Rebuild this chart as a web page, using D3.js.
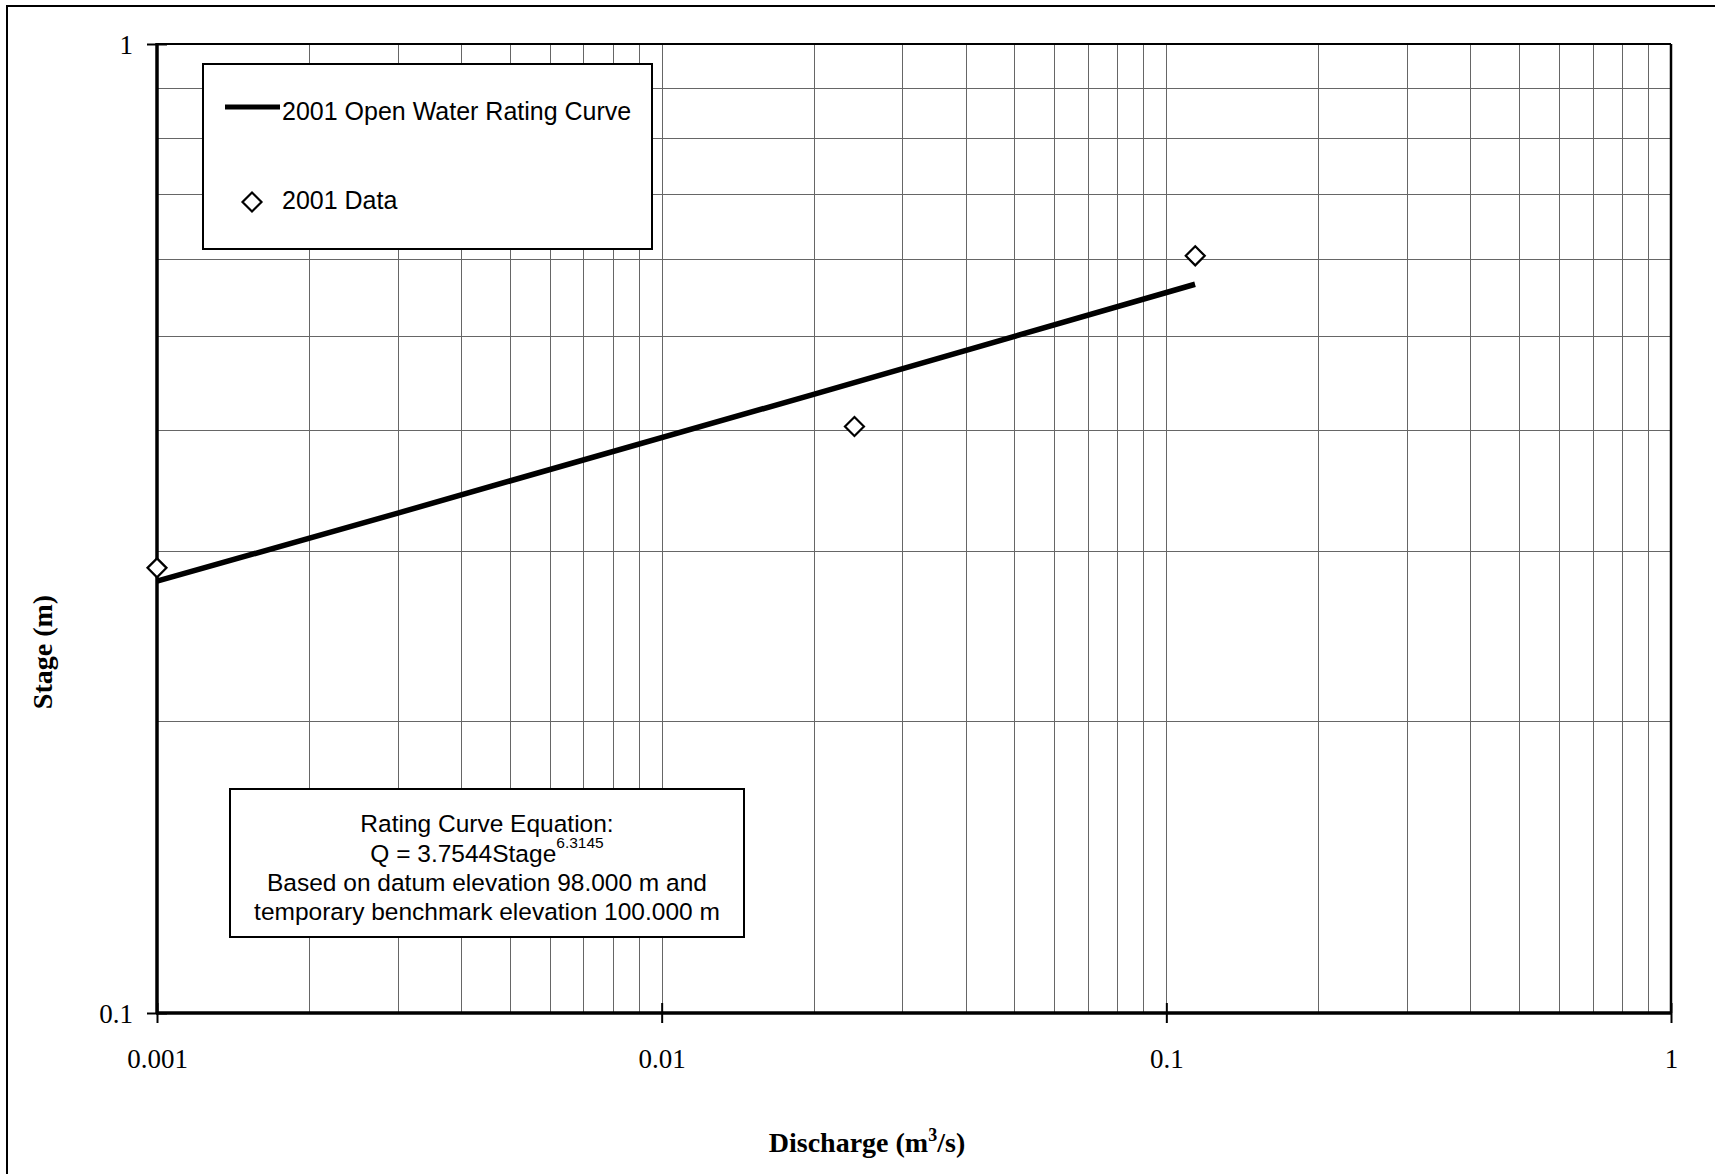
<!DOCTYPE html>
<html>
<head>
<meta charset="utf-8">
<script src="https://cdn.jsdelivr.net/npm/d3@7"></script>
<style>
  html, body { margin: 0; padding: 0; background: #fff; }
  svg { display: block; }
</style>
</head>
<body>
<svg id="chart" width="1715" height="1174"></svg>
<script>
// ---- data ----
const ratingQ = [0.001, 0.003, 0.005, 0.02, 0.114];
const ratingStage = [0.279, 0.328, 0.354, 0.435, 0.565];
const dataQ = [0.001, 0.0241, 0.1141];
const dataStage = [0.288, 0.403, 0.6045];
const xTickValues = [0.001, 0.01, 0.1, 1];
const xTickLabels = ["0.001", "0.01", "0.1", "1"];
const yTickValues = [0.1, 1];
const yTickLabels = ["0.1", "1"];
const legendLabels = ["2001 Open Water Rating Curve", "2001 Data"];
const equationLines = ["Rating Curve Equation:", "Q = 3.7544Stage", "Based on datum elevation 98.000 m and", "temporary benchmark elevation 100.000 m"];
const equationExponent = "6.3145";

// ---- layout ----
const W = 1715, H = 1174;
const L = 157, R = 1671, T = 44, B = 1013;
const serif = "'Liberation Serif', 'Times New Roman', serif";
const sans = "'Liberation Sans', Arial, sans-serif";

const svg = d3.select("#chart");
svg.append("rect").attr("x", 0).attr("y", 0).attr("width", W).attr("height", H).attr("fill", "#fff");
// outer frame
svg.append("rect").attr("x", 7).attr("y", 6).attr("width", W - 6).attr("height", H - 5)
  .attr("fill", "none").attr("stroke", "#000").attr("stroke-width", 2);

const x = d3.scaleLog().domain([0.001, 1]).range([L, R]);
const y = d3.scaleLog().domain([0.1, 1]).range([B, T]);

// gridlines
const grid = svg.append("g").attr("stroke", "#666").attr("stroke-width", 1).attr("shape-rendering", "crispEdges");
x.ticks().filter(v => v > 0.001 && v < 1).forEach(v => {
  grid.append("line").attr("x1", Math.round(x(v)) + 0.5).attr("x2", Math.round(x(v)) + 0.5).attr("y1", T).attr("y2", B);
});
y.ticks().filter(v => v > 0.1 && v < 1).forEach(v => {
  grid.append("line").attr("y1", Math.round(y(v)) + 0.5).attr("y2", Math.round(y(v)) + 0.5).attr("x1", L).attr("x2", R);
});

// plot frame top/right
svg.append("line").attr("x1", L).attr("x2", R).attr("y1", T).attr("y2", T).attr("stroke", "#000").attr("stroke-width", 2);
svg.append("line").attr("x1", R).attr("x2", R).attr("y1", T).attr("y2", B).attr("stroke", "#000").attr("stroke-width", 2.5);

// axes
const xAxis = d3.axisBottom(x).tickValues(xTickValues).tickFormat((d, i) => xTickLabels[i]).tickSize(10).tickPadding(0);
const gx = svg.append("g").attr("transform", `translate(0,${B})`).call(xAxis);
gx.select(".domain").attr("stroke", "#000").attr("stroke-width", 3.5).attr("d", `M${L - 1},0H${R + 1}`);
gx.selectAll(".tick line").attr("y1", -10).attr("y2", 10).attr("stroke", "#000").attr("stroke-width", 2);
gx.selectAll(".tick text").attr("y", 55).attr("dy", 0).attr("font-family", serif).attr("font-size", 27).attr("fill", "#000");

const yAxis = d3.axisLeft(y).tickValues(yTickValues).tickFormat((d, i) => yTickLabels[i]).tickSize(10).tickPadding(0);
const gy = svg.append("g").attr("transform", `translate(${L},0)`).call(yAxis);
gy.select(".domain").attr("stroke", "#000").attr("stroke-width", 3.5).attr("d", `M0,${T - 1}V${B + 1}`);
gy.selectAll(".tick line").attr("x1", -10).attr("x2", 10).attr("stroke", "#000").attr("stroke-width", 2);
gy.selectAll(".tick text").attr("x", -24).attr("dy", "0.34em").attr("font-family", serif).attr("font-size", 27).attr("fill", "#000");
svg.selectAll(".domain").attr("fill", "none");

// rating curve
const lineGen = d3.line().x(d => x(d[0])).y(d => y(d[1]));
svg.append("path").datum(ratingQ.map((q, i) => [q, ratingStage[i]]))
  .attr("d", lineGen).attr("fill", "none").attr("stroke", "#000").attr("stroke-width", 5.5);

// data points
const diamond = d3.symbol().type(d3.symbolDiamond2).size(230);
svg.append("g").selectAll("path").data(dataQ.map((q, i) => [q, dataStage[i]])).join("path")
  .attr("d", diamond).attr("transform", d => `translate(${x(d[0])},${y(d[1])})`)
  .attr("fill", "#fff").attr("stroke", "#000").attr("stroke-width", 2.2);

// legend
const lg = svg.append("g");
lg.append("rect").attr("x", 203).attr("y", 64).attr("width", 449).attr("height", 185)
  .attr("fill", "#fff").attr("stroke", "#000").attr("stroke-width", 2);
lg.append("line").attr("x1", 225).attr("x2", 280).attr("y1", 107).attr("y2", 107).attr("stroke", "#000").attr("stroke-width", 5);
lg.append("text").attr("x", 282).attr("y", 120).attr("font-family", sans).attr("font-size", 25).text(legendLabels[0]);
lg.append("path").attr("d", diamond).attr("transform", "translate(252,202)").attr("fill", "#fff").attr("stroke", "#000").attr("stroke-width", 2.2);
lg.append("text").attr("x", 282).attr("y", 209).attr("font-family", sans).attr("font-size", 25).text(legendLabels[1]);

// equation box
const eg = svg.append("g");
eg.append("rect").attr("x", 230).attr("y", 789).attr("width", 514).attr("height", 148)
  .attr("fill", "#fff").attr("stroke", "#000").attr("stroke-width", 2);
const eqBase = [832, 862, 891, 920];
equationLines.forEach((t, i) => {
  const tx = eg.append("text").attr("x", 487).attr("y", eqBase[i]).attr("text-anchor", "middle")
    .attr("font-family", sans).attr("font-size", 24.5).attr("fill", "#000");
  tx.append("tspan").text(t);
  if (i === 1) tx.append("tspan").attr("font-size", 15.5).attr("dy", -14).text(equationExponent);
});

// axis titles
const xt = svg.append("text").attr("x", 867).attr("y", 1152).attr("text-anchor", "middle")
  .attr("font-family", serif).attr("font-weight", "bold").attr("font-size", 28);
xt.append("tspan").text("Discharge (m");
xt.append("tspan").attr("font-size", 18).attr("dy", -11).text("3");
xt.append("tspan").attr("dy", 11).text("/s)");

svg.append("text").attr("transform", "translate(52,652) rotate(-90)").attr("text-anchor", "middle")
  .attr("font-family", serif).attr("font-weight", "bold").attr("font-size", 28).text("Stage (m)");
</script>
</body>
</html>
